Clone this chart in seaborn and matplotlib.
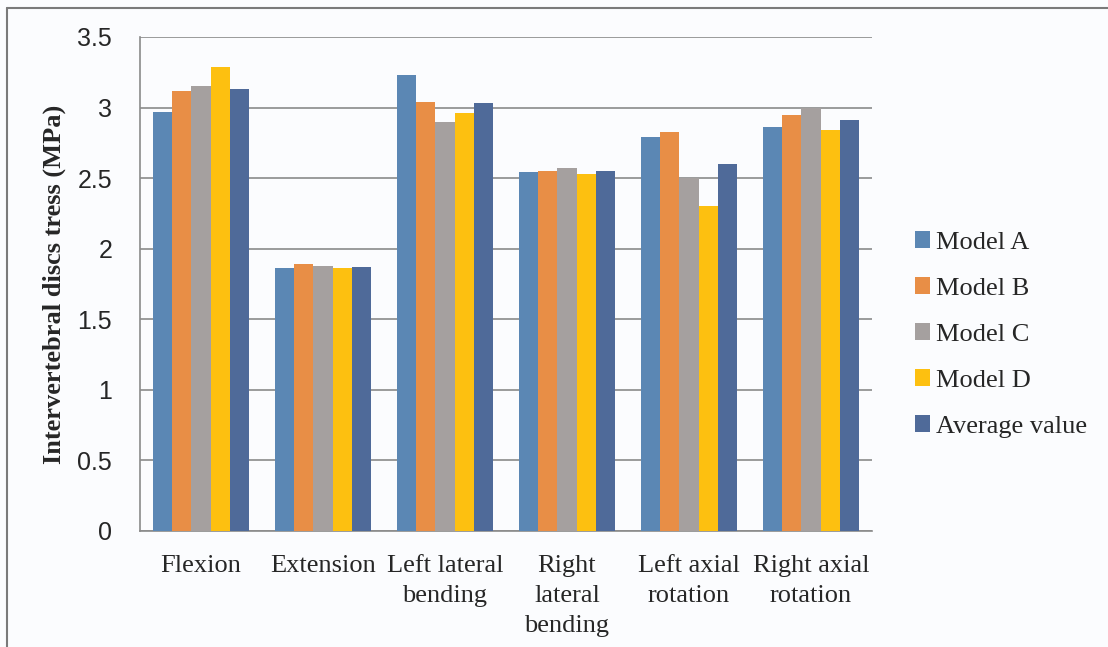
import matplotlib
matplotlib.use("Agg")
import matplotlib.pyplot as plt
from matplotlib.lines import Line2D
from matplotlib.patches import Patch
import seaborn as sns
import pandas as pd

categories = ["Flexion", "Extension", "Left lateral\nbending", "Right\nlateral\nbending",
              "Left axial\nrotation", "Right axial\nrotation"]
series_names = ["Model A", "Model B", "Model C", "Model D", "Average value"]
model_a = [2.97, 1.86, 3.23, 2.54, 2.79, 2.86]
model_b = [3.12, 1.89, 3.04, 2.55, 2.83, 2.95]
model_c = [3.15, 1.88, 2.90, 2.57, 2.50, 3.00]
model_d = [3.29, 1.86, 2.96, 2.53, 2.30, 2.84]
average = [3.13, 1.87, 3.03, 2.55, 2.60, 2.91]
y_ticks = [0, 0.5, 1, 1.5, 2, 2.5, 3, 3.5]
y_tick_labels = ["0", "0.5", "1", "1.5", "2", "2.5", "3", "3.5"]

colors = ["#5b87b4", "#e88e46", "#a5a09f", "#fdc010", "#4f6a99"]

rows = []
for name, vals in zip(series_names, [model_a, model_b, model_c, model_d, average]):
    for cat, v in zip(categories, vals):
        rows.append({"category": cat, "series": name, "value": v})
df = pd.DataFrame(rows)

sns.set_style("white")
bg = "#fbfcfe"
fig = plt.figure(figsize=(11.08, 6.47), dpi=100, facecolor=bg)
ax = fig.add_axes([140 / 1108, 1 - 531 / 647, 732 / 1108, (531 - 37) / 647])
ax.set_facecolor(bg)

sns.barplot(data=df, x="category", y="value", hue="series", order=categories,
            hue_order=series_names, palette=colors, width=0.78, gap=0,
            saturation=1, edgecolor="none", linewidth=0, legend=False, ax=ax, zorder=3)

ax.set_xlim(-0.5, len(categories) - 0.5)
ax.set_ylim(0, 3.5)
ax.set_yticks(y_ticks)
ax.set_yticklabels(y_tick_labels, fontsize=18, family="Liberation Sans")
ax.yaxis.grid(True, color="#8a8a8a", linewidth=1.2, zorder=0)
ax.set_axisbelow(True)

# category labels on major ticks, boundary tick marks on minor ticks
ax.set_xticks(range(len(categories)))
ax.set_xticklabels(categories, fontsize=19, family="Liberation Serif", linespacing=1.47,
                   va="top")
ax.set_xticks([i - 0.5 for i in range(len(categories) + 1)], minor=True)
ax.tick_params(axis="x", which="major", length=0, pad=17)
ax.tick_params(axis="x", which="minor", length=6, color="#8a8a8a", width=1.2, direction="out")
ax.tick_params(axis="y", length=6, color="#8a8a8a", width=1.2, direction="out", pad=14)

for side in ["top", "right"]:
    ax.spines[side].set_visible(False)
for side in ["left", "bottom"]:
    ax.spines[side].set_color("#8a8a8a")
    ax.spines[side].set_linewidth(1.2)

ax.set_xlabel("")
ax.set_ylabel("Intervertebral discs tress (MPa)", fontsize=19, family="Liberation Serif",
              fontweight="bold", labelpad=8)

handles = [Patch(facecolor=c, edgecolor="none") for c in colors]
fig.legend(handles, series_names, loc="center left", bbox_to_anchor=(0.804, 0.483),
           frameon=False, prop={"family": "Liberation Serif", "size": 19},
           handlelength=0.6, handleheight=0.6, handletextpad=0.2, labelspacing=0.89)

# frame edge along top and left of the figure
fig.add_artist(Line2D([7 / 1108, 1.0], [1 - 8 / 647, 1 - 8 / 647], color="#7a7a7a",
                      linewidth=1.5, transform=fig.transFigure))
fig.add_artist(Line2D([7 / 1108, 7 / 1108], [0.0, 1 - 8 / 647], color="#7a7a7a",
                      linewidth=1.5, transform=fig.transFigure))

fig.savefig("out.png", dpi=100, facecolor=bg)
